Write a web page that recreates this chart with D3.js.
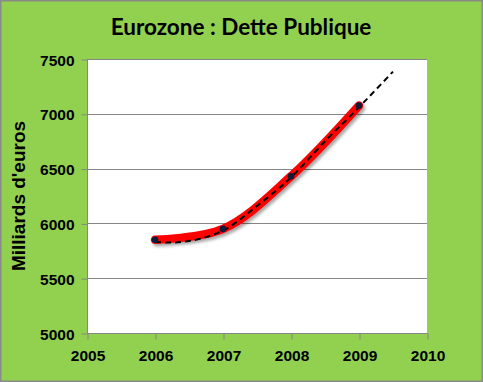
<!DOCTYPE html>
<html><head><meta charset="utf-8">
<script src="https://cdn.jsdelivr.net/npm/d3@7/dist/d3.min.js"></script>
<style>html,body{margin:0;padding:0;background:#fff}svg{display:block}</style>
</head><body>
<script>
const years = [2006, 2007, 2008, 2009];
const dette = [5850, 5950, 6430, 7075];
const trendYears = [2006, 2006.25, 2006.5, 2006.75, 2007, 2007.5, 2008, 2008.5, 2009, 2009.5];
const trendValues = [5830, 5825, 5840, 5875, 5935, 6160, 6420, 6750, 7060, 7385];
const xTicks = [2005, 2006, 2007, 2008, 2009, 2010];
const yTicks = [5000, 5500, 6000, 6500, 7000, 7500];
const title = "Eurozone : Dette Publique";
const yTitle = "Milliards d'euros";

const W = 483, H = 382;
const svg = d3.select("body").append("svg").attr("width", W).attr("height", H);
const defs = svg.append("defs");
const f = defs.append("filter").attr("id","sh").attr("x","-20%").attr("y","-20%").attr("width","140%").attr("height","140%");
f.append("feDropShadow").attr("dx",2).attr("dy",2.5).attr("stdDeviation",1.5).attr("flood-color","#000").attr("flood-opacity",0.35);

svg.append("rect").attr("x",0.75).attr("y",0.75).attr("width",W-1.5).attr("height",H-1.5)
  .attr("fill","#92D050").attr("stroke","#8a8a8a").attr("stroke-width",1.5);

const L = 87, R = 427, T = 59, B = 333;
const x = d3.scaleLinear().domain([2005, 2010]).range([L, R]);
const y = d3.scaleLinear().domain([5000, 7500]).range([B, T]);

svg.append("rect").attr("x",L).attr("y",T).attr("width",R-L).attr("height",B-T).attr("fill","#fff");

// gridlines
svg.append("g").selectAll("line").data(yTicks.filter(v=>v>5000)).join("line")
  .attr("x1",L).attr("x2",R).attr("y1",d=>Math.round(y(d))+0.5).attr("y2",d=>Math.round(y(d))+0.5)
  .attr("stroke","#868686").attr("stroke-width",1);

// axes
const yAxis = d3.axisLeft(y).tickValues(yTicks).tickSize(6).tickPadding(7).tickFormat(d3.format("d"));
const gy = svg.append("g").attr("transform",`translate(${L+0.5},0.5)`).call(yAxis);
const xAxis = d3.axisBottom(x).tickValues(xTicks).tickSize(6).tickPadding(10).tickFormat(d3.format("d"));
const gx = svg.append("g").attr("transform",`translate(0.5,${B+0.5})`).call(xAxis);
[gy,gx].forEach(g=>{
  g.select(".domain").attr("stroke","#868686");
  g.selectAll(".tick line").attr("stroke","#868686");
  g.selectAll(".tick text").attr("fill","#000").attr("font-family","'Liberation Sans', Arial, sans-serif")
    .attr("font-weight","bold").attr("font-size","15.5px");
});
gy.selectAll(".tick text").attr("dy","0.36em");
gy.select(".domain").attr("d",`M0,${B}V${T}`);
gx.select(".domain").attr("d",`M${L},0H${R}`);

// red smooth line
const line = d3.line().x(d=>x(d[0])).y(d=>y(d[1])).curve(d3.curveCatmullRom.alpha(0.5));
svg.append("path").datum(years.map((yr,i)=>[yr,dette[i]])).attr("d",line)
  .attr("fill","none").attr("stroke","#FF0000").attr("stroke-width",8.5).attr("stroke-linecap","round")
  .attr("filter","url(#sh)");

// trend dashed
svg.append("path").datum(trendYears.map((yr,i)=>[yr,trendValues[i]]))
  .attr("d",d3.line().x(d=>x(d[0])).y(d=>y(d[1])).curve(d3.curveMonotoneX))
  .attr("fill","none").attr("stroke","#000").attr("stroke-width",2).attr("stroke-dasharray","6,4");

// points
svg.append("g").selectAll("circle").data(years).join("circle")
  .attr("cx",(d)=>x(d)).attr("cy",(d,i)=>y(dette[i])).attr("r",3.3).attr("fill","#0d1a3a");

// title
svg.append("text").attr("x",241).attr("y",35).attr("text-anchor","middle")
  .attr("font-family","Lato, 'Open Sans', sans-serif").attr("font-weight","bold").attr("font-size","22.5px")
  .attr("fill","#000").text(title);

svg.append("text").attr("transform","translate(25,196) rotate(-90)").attr("text-anchor","middle")
  .attr("font-family","'Liberation Sans', Arial, sans-serif").attr("font-weight","bold").attr("font-size","19px")
  .attr("fill","#000").text(yTitle);
</script>
</body></html>
